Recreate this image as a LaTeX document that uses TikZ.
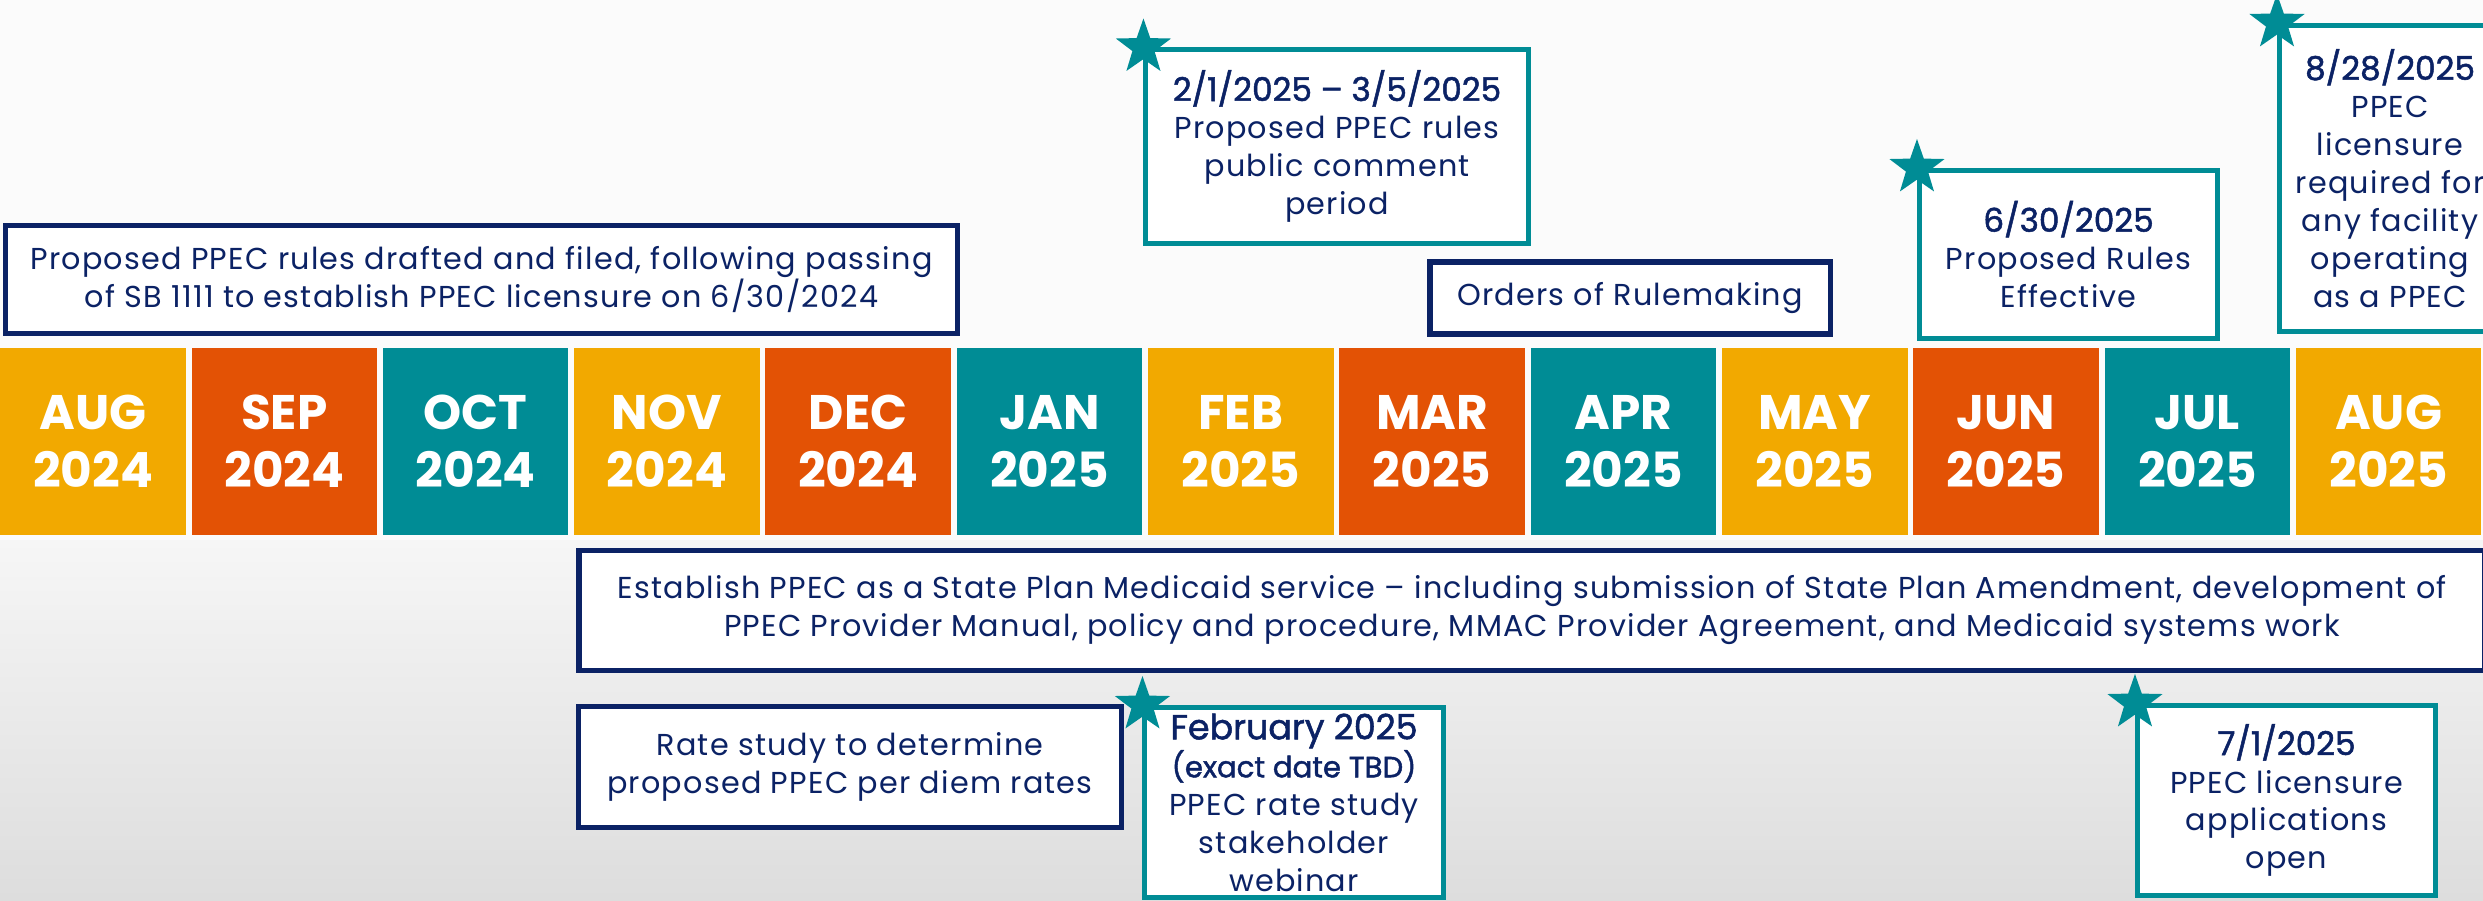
\documentclass[tikz,border=0pt]{standalone}
\usepackage{fontspec}
\setmainfont{Poppins}
\newfontfamily\bodyfont{Poppins}[LetterSpace=4]
\newfontfamily\datefont{Poppins}[FakeBold=1.5]
\usetikzlibrary{shapes.geometric}

\definecolor{navy}{HTML}{0B2265}
\definecolor{tealc}{HTML}{008C95}
\definecolor{gold}{HTML}{F2A900}
\definecolor{rust}{HTML}{E35205}
\definecolor{bgtop}{HTML}{FBFBFB}
\definecolor{bgmid}{HTML}{F6F6F6}
\definecolor{bgbot}{HTML}{DDDDDD}

\newcommand{\boxtxt}{\bodyfont\fontsize{8.6}{10.8}\selectfont}
\newcommand{\datetxt}{\datefont\fontsize{9.3}{11.6}\selectfont}

\begin{document}
\begin{tikzpicture}[x=0.01cm, y=-0.01cm,
	every node/.style={inner sep=0pt, align=center},
	month/.style={minimum width=1.855cm, minimum height=1.87cm, text=white, font=\fontsize{13.8}{16.5}\selectfont\bfseries},
	navybox/.style={draw=navy, line width=1.5pt, fill=white, text=navy, font=\boxtxt},
	tealbox/.style={draw=tealc, line width=1.4pt, fill=white, text=navy, font=\boxtxt},
	milestone/.style={star, star points=5, star point ratio=2.5, fill=tealc, minimum size=0.58cm}]
			\useasboundingbox (0,0) rectangle (2483,900);
			\fill[bgtop] (0,0) rectangle (2483,540);
			\shade[top color=bgmid, bottom color=bgbot] (0,540) rectangle (2483,900);
			
			% months
			\node[month, fill=gold] (aug24) at (93,441.5) {AUG\\2024};
			\node[month, fill=rust] (sep24) at (284.3,441.5) {SEP\\2024};
			\node[month, fill=tealc] (oct24) at (475.6,441.5) {OCT\\2024};
			\node[month, fill=gold] (nov24) at (666.9,441.5) {NOV\\2024};
			\node[month, fill=rust] (dec24) at (858.2,441.5) {DEC\\2024};
			\node[month, fill=tealc] (jan25) at (1049.5,441.5) {JAN\\2025};
			\node[month, fill=gold] (feb25) at (1240.8,441.5) {FEB\\2025};
			\node[month, fill=rust] (mar25) at (1432.1,441.5) {MAR\\2025};
			\node[month, fill=tealc] (apr25) at (1623.4,441.5) {APR\\2025};
			\node[month, fill=gold] (may25) at (1814.7,441.5) {MAY\\2025};
			\node[month, fill=rust] (jun25) at (2006,441.5) {JUN\\2025};
			\node[month, fill=tealc] (jul25) at (2197.3,441.5) {JUL\\2025};
			\node[month, fill=gold] (aug25) at (2388.6,441.5) {AUG\\2025};
			
			% above the months
			\node[navybox, minimum width=9.52cm, minimum height=1.08cm] (drafted) at (481.5,279.5) {Proposed PPEC rules drafted and filed, following passing\\of SB 1111 to establish PPEC licensure on 6/30/2024};
			\node[tealbox, minimum width=3.82cm, minimum height=1.93cm] (pubcomment) at (1337,146.5) {{\datetxt 2/1/2025 – 3/5/2025}\\Proposed PPEC rules\\public comment\\period};
			\node[navybox, minimum width=4cm, minimum height=0.72cm] (orders) at (1630,298) {Orders of Rulemaking};
			\node[tealbox, minimum width=2.98cm, minimum height=1.68cm] (effective) at (2068.5,254.5) {{\datetxt 6/30/2025}\\Proposed Rules\\Effective};
			\node[tealbox, minimum width=2.21cm, minimum height=3.06cm] (required) at (2390,178.5) {{\datetxt 8/28/2025}\\PPEC\\licensure\\required for\\any facility\\operating\\as a PPEC};
			
			% below the months
			\node[navybox, minimum width=19.05cm, minimum height=1.2cm] (establish) at (1532,610.5) {Establish PPEC as a State Plan Medicaid service – including submission of State Plan Amendment, development of\\PPEC Provider Manual, policy and procedure, MMAC Provider Agreement, and Medicaid systems work};
			\node[navybox, minimum width=5.42cm, minimum height=1.21cm] (ratestudy) at (850,767) {Rate study to determine\\proposed PPEC per diem rates};
			\node[tealbox, minimum width=2.98cm, minimum height=1.9cm] (webinar) at (1294,802.5) {{\datefont\fontsize{9.9}{10.8}\selectfont February 2025}\\{\datefont\fontsize{8.3}{10.8}\selectfont (exact date TBD)}\\PPEC rate study\\stakeholder\\webinar};
			\node[tealbox, minimum width=2.98cm, minimum height=1.9cm] (appsopen) at (2286.5,800.5) {{\datetxt 7/1/2025}\\PPEC licensure\\applications\\open};
			
			% stars
			\node[milestone] (s1) at (pubcomment.north west){};
			\node[milestone] (s2) at (effective.north west){};
			\node[milestone] (s3) at (required.north west){};
			\node[milestone] (s4) at (webinar.north west){};
			\node[milestone] (s5) at (appsopen.north west){};
			\end{tikzpicture}
\end{document}
